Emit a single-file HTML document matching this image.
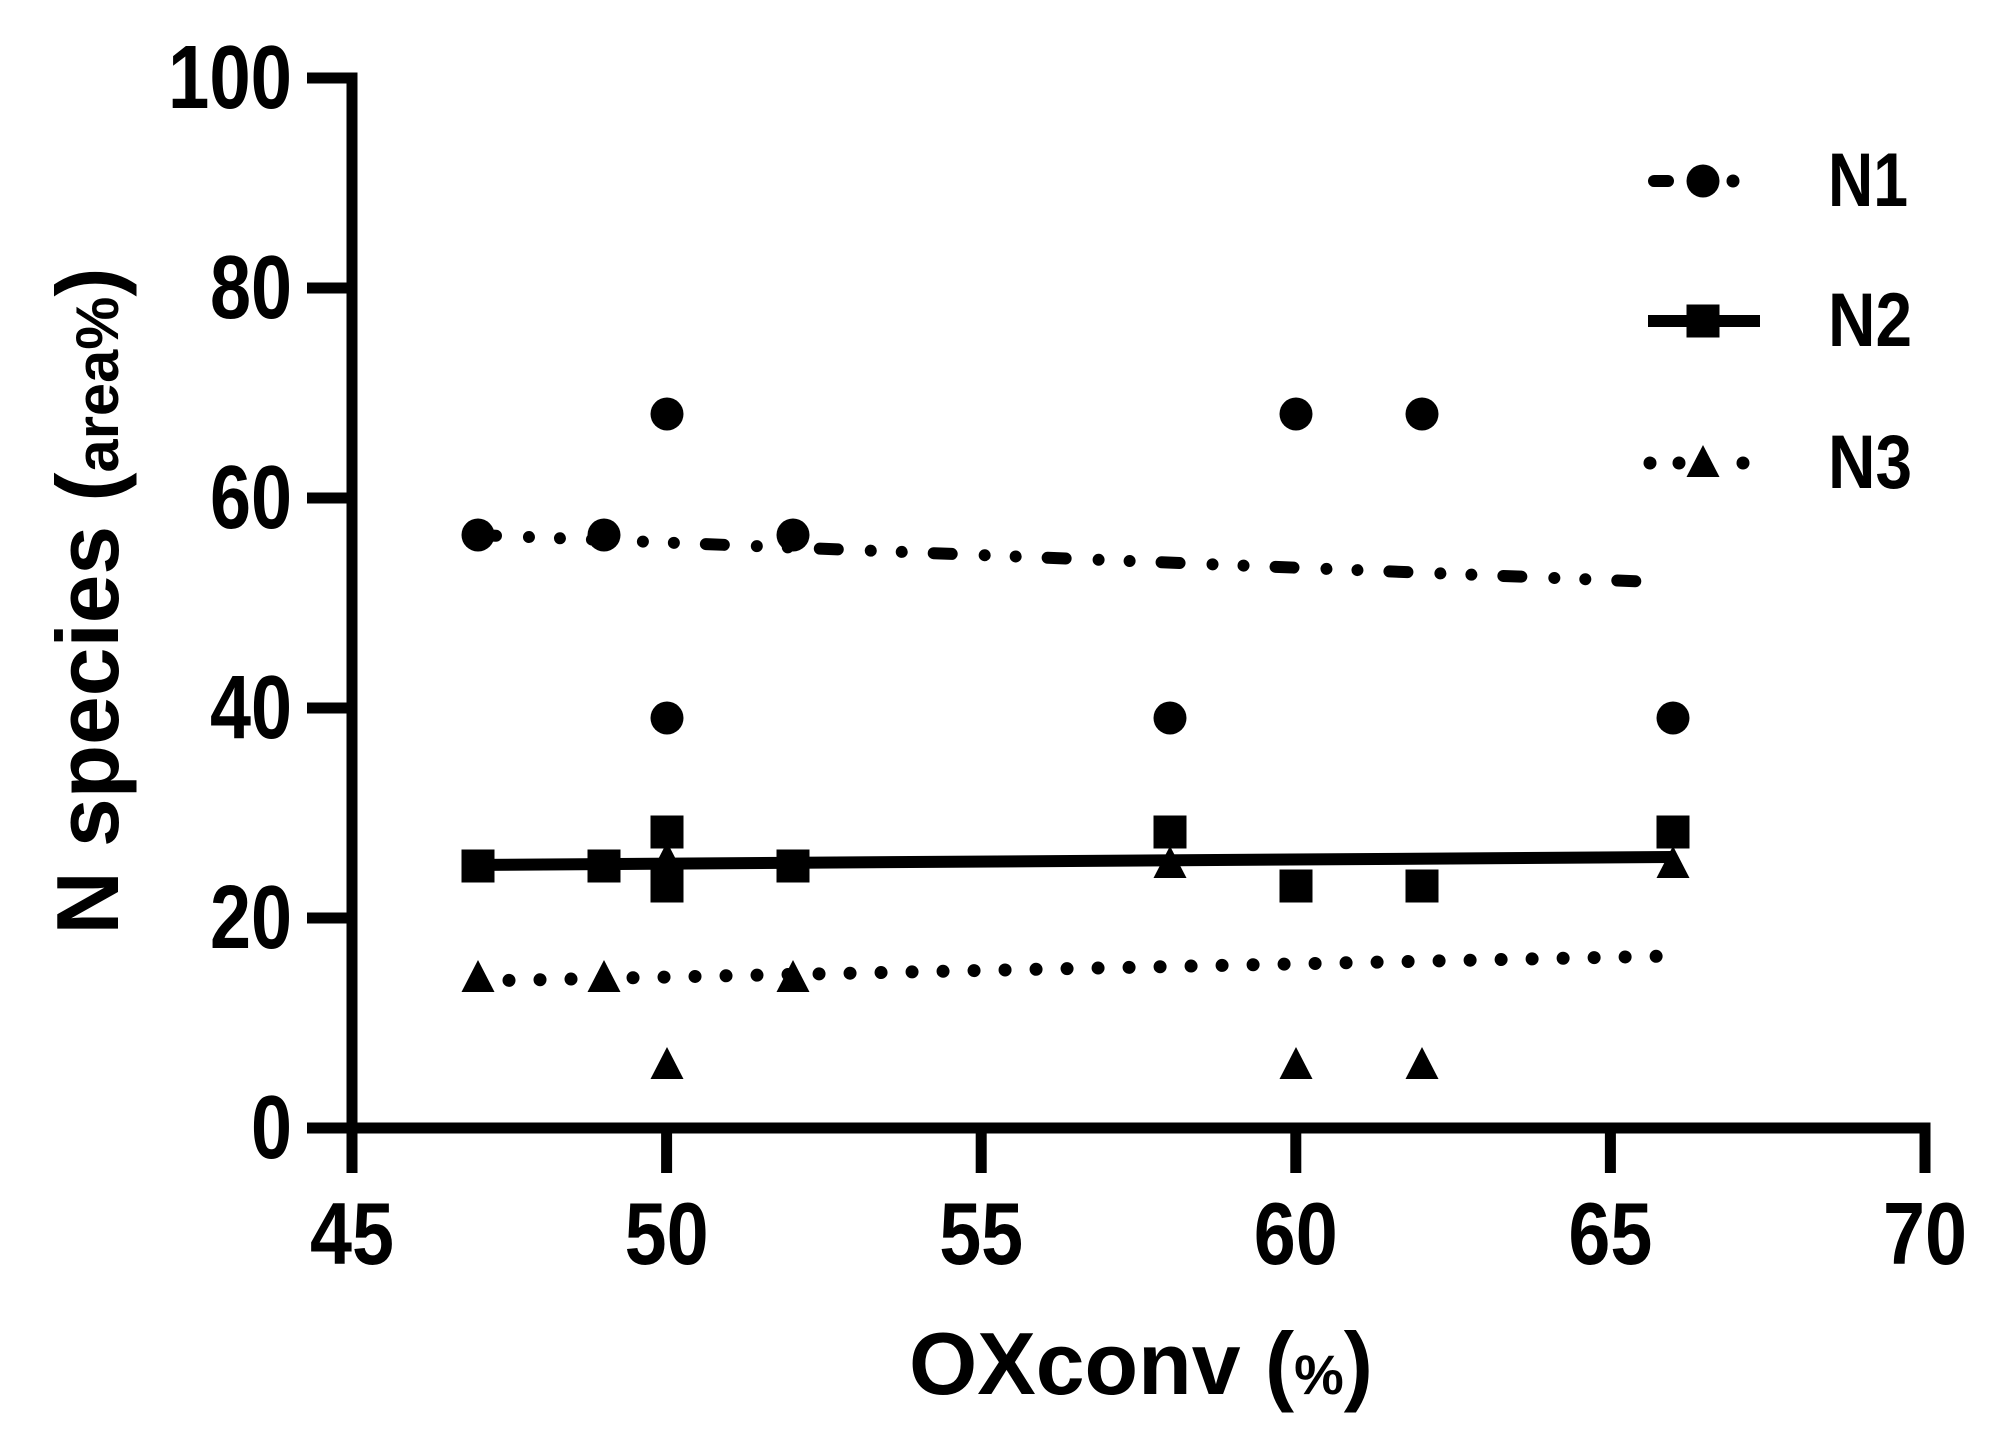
<!DOCTYPE html>
<html><head><meta charset="utf-8"><style>
html,body{margin:0;padding:0;background:#fff;}
svg{display:block;}
text{font-family:"Liberation Sans",Arial,sans-serif;font-weight:bold;fill:#000;}
</style></head><body>
<svg width="2007" height="1445" viewBox="0 0 2007 1445" xmlns="http://www.w3.org/2000/svg">
<defs>
<rect id="sq" x="-16.5" y="-16.5" width="33" height="33" fill="#000"/>
<circle id="ci" r="16.5" fill="#000"/>
<polygon id="tr" points="0,-18 16.5,14 -16.5,14" fill="#000"/>
</defs>
<g stroke="#000" stroke-width="11" fill="none" stroke-linecap="butt">
<line x1="352" y1="72.5" x2="352" y2="1173"/>
<line x1="307" y1="1128" x2="1930.5" y2="1128"/>
<line x1="307" y1="78" x2="357" y2="78"/>
<line x1="307" y1="288" x2="357" y2="288"/>
<line x1="307" y1="498" x2="357" y2="498"/>
<line x1="307" y1="708" x2="357" y2="708"/>
<line x1="307" y1="918" x2="357" y2="918"/>
<line x1="666.6" y1="1123" x2="666.6" y2="1173"/>
<line x1="981.2" y1="1123" x2="981.2" y2="1173"/>
<line x1="1295.8" y1="1123" x2="1295.8" y2="1173"/>
<line x1="1610.4" y1="1123" x2="1610.4" y2="1173"/>
<line x1="1925" y1="1123" x2="1925" y2="1173"/>
</g>
<g font-size="90" text-anchor="end">
<text x="292" y="108" textLength="124" lengthAdjust="spacingAndGlyphs">100</text>
<text x="292" y="318" textLength="82" lengthAdjust="spacingAndGlyphs">80</text>
<text x="292" y="528" textLength="82" lengthAdjust="spacingAndGlyphs">60</text>
<text x="292" y="738" textLength="82" lengthAdjust="spacingAndGlyphs">40</text>
<text x="292" y="948" textLength="82" lengthAdjust="spacingAndGlyphs">20</text>
<text x="292" y="1158" textLength="41" lengthAdjust="spacingAndGlyphs">0</text>
</g>
<g font-size="88" text-anchor="middle">
<text x="352" y="1264" textLength="84" lengthAdjust="spacingAndGlyphs">45</text>
<text x="666.6" y="1264" textLength="84" lengthAdjust="spacingAndGlyphs">50</text>
<text x="981.2" y="1264" textLength="84" lengthAdjust="spacingAndGlyphs">55</text>
<text x="1295.8" y="1264" textLength="84" lengthAdjust="spacingAndGlyphs">60</text>
<text x="1610.4" y="1264" textLength="84" lengthAdjust="spacingAndGlyphs">65</text>
<text x="1925" y="1264" textLength="84" lengthAdjust="spacingAndGlyphs">70</text>
</g>
<text x="1141" y="1394" font-size="88" text-anchor="middle" textLength="464" lengthAdjust="spacingAndGlyphs">OXconv (<tspan font-size="56">%</tspan>)</text>
<text transform="translate(118,601) rotate(-90)" font-size="88" text-anchor="middle" textLength="667" lengthAdjust="spacingAndGlyphs">N species (<tspan font-size="60">area%</tspan>)</text>
<line x1="478" y1="535" x2="1655" y2="582" stroke="#000" stroke-width="12" stroke-linecap="round" stroke-dasharray="18 33 0.01 31 0.01 32"/>
<line x1="463" y1="865" x2="1673" y2="857" stroke="#000" stroke-width="12"/>
<line x1="478" y1="981" x2="1670" y2="956" stroke="#000" stroke-width="13" stroke-linecap="round" stroke-dasharray="0.01 31"/>
<use href="#ci" x="478" y="535"/><use href="#ci" x="604" y="535"/><use href="#ci" x="667" y="414"/>
<use href="#ci" x="667" y="718"/><use href="#ci" x="793" y="535"/><use href="#ci" x="1170" y="718"/>
<use href="#ci" x="1296" y="414"/><use href="#ci" x="1422" y="414"/><use href="#ci" x="1673" y="718"/>
<use href="#sq" x="478" y="866"/><use href="#sq" x="604" y="866"/><use href="#sq" x="667" y="832"/>
<use href="#sq" x="667" y="886"/><use href="#sq" x="793" y="866"/><use href="#sq" x="1170" y="832"/>
<use href="#sq" x="1296" y="886"/><use href="#sq" x="1422" y="886"/><use href="#sq" x="1673" y="832"/>
<use href="#tr" x="478" y="978"/><use href="#tr" x="604" y="978"/><use href="#tr" x="667" y="1065"/>
<use href="#tr" x="667" y="860"/><use href="#tr" x="793" y="978"/><use href="#tr" x="1170" y="864"/>
<use href="#tr" x="1296" y="1065"/><use href="#tr" x="1422" y="1065"/><use href="#tr" x="1673" y="864"/>
<line x1="1654" y1="181" x2="1668" y2="181" stroke="#000" stroke-width="12" stroke-linecap="round"/>
<use href="#ci" x="1703" y="181"/>
<circle cx="1733" cy="181" r="6.5" fill="#000"/>
<text x="1828" y="206" font-size="76" textLength="80" lengthAdjust="spacingAndGlyphs">N1</text>
<line x1="1648" y1="321" x2="1760" y2="321" stroke="#000" stroke-width="12"/>
<use href="#sq" x="1703" y="321"/>
<text x="1828" y="346" font-size="76" textLength="84" lengthAdjust="spacingAndGlyphs">N2</text>
<circle cx="1650" cy="463" r="6.5" fill="#000"/>
<circle cx="1679" cy="463" r="6.5" fill="#000"/>
<circle cx="1743" cy="463" r="6.5" fill="#000"/>
<use href="#tr" x="1703" y="463"/>
<text x="1828" y="488" font-size="76" textLength="84" lengthAdjust="spacingAndGlyphs">N3</text>
</svg>
</body></html>
